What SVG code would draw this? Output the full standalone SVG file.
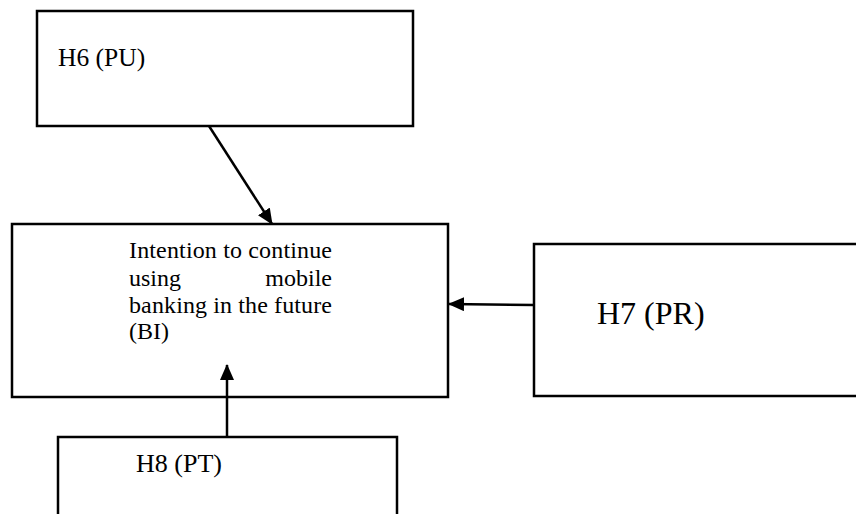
<svg xmlns="http://www.w3.org/2000/svg" width="856" height="514" viewBox="0 0 856 514">
<defs>
<style>
.box{fill:#fff;stroke:#000;stroke-width:2.5}
.t{font-family:"Liberation Serif","Times New Roman",serif;fill:#000}
.c{stroke:#000;stroke-width:2.5;fill:none}
</style>
<marker id="ah" markerUnits="userSpaceOnUse" markerWidth="16" markerHeight="14" refX="15" refY="7" orient="auto">
<path d="M0,0 L16,7 L0,14 z" fill="#000"/>
</marker>
</defs>
<rect width="856" height="514" fill="#fff"/>
<g id="node-h6">
<rect class="box" x="37" y="11" width="376" height="115"/>
<text class="t" x="58" y="66" font-size="25.5">H6 (PU)</text>
</g>
<g id="node-bi">
<rect class="box" x="12" y="224" width="436" height="173"/>
<text class="t" font-size="24">
<tspan x="129" y="258" textLength="203" lengthAdjust="spacing">Intention to continue</tspan>
</text>
<text class="t" font-size="24" x="129" y="286">using</text>
<text class="t" font-size="24" x="332" y="286" text-anchor="end">mobile</text>
<text class="t" font-size="24">
<tspan x="129" y="313" textLength="203" lengthAdjust="spacing">banking in the future</tspan>
</text>
<text class="t" font-size="24" x="129" y="339">(BI)</text>
</g>
<g id="node-h7">
<rect class="box" x="534" y="244" width="330" height="152"/>
<text class="t" x="597" y="324" font-size="32">H7 (PR)</text>
</g>
<g id="node-h8">
<rect class="box" x="58" y="437" width="339" height="100"/>
<text class="t" x="136" y="472" font-size="26">H8 (PT)</text>
</g>
<g id="connectors">
<line class="c" x1="209" y1="126" x2="272" y2="224" marker-end="url(#ah)"/>
<line class="c" x1="534" y1="305" x2="449" y2="304" marker-end="url(#ah)"/>
<line class="c" x1="227" y1="437" x2="227" y2="365" marker-end="url(#ah)"/>
</g>
</svg>
